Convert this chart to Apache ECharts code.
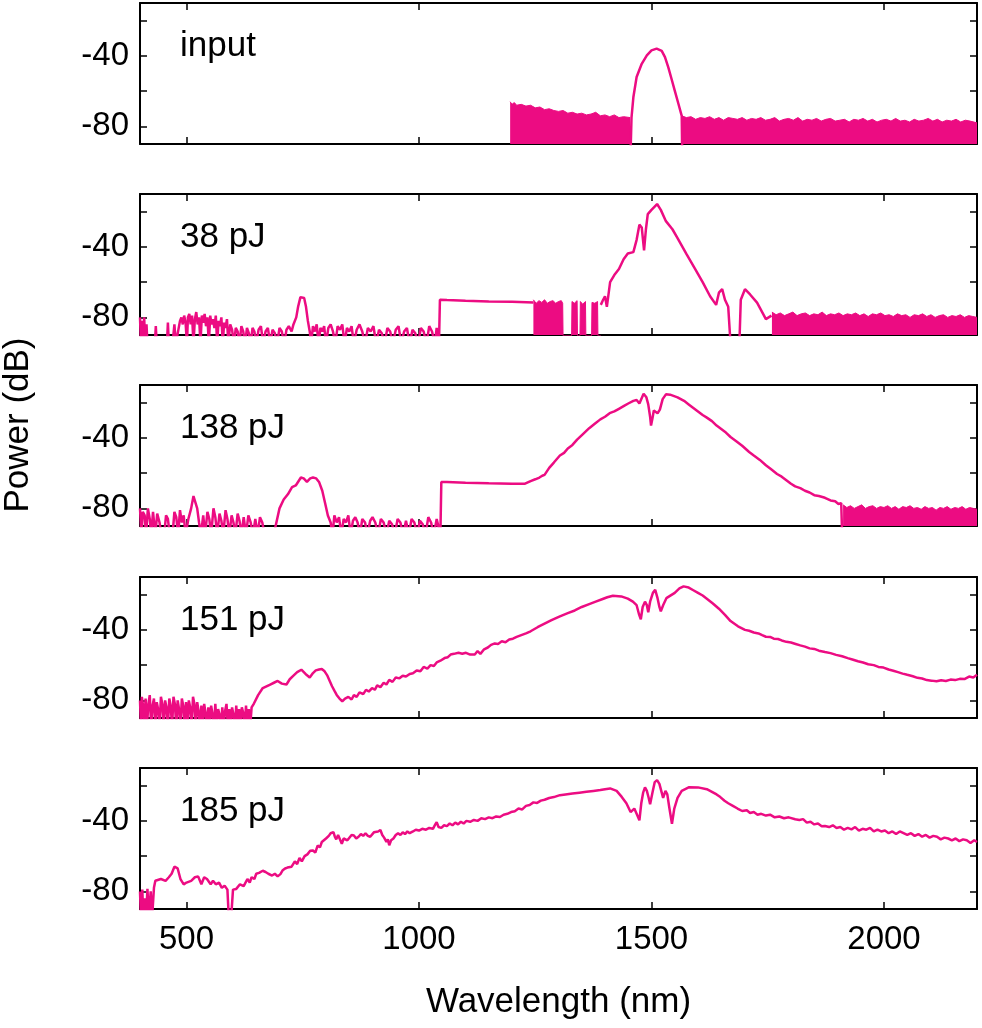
<!DOCTYPE html>
<html>
<head>
<meta charset="utf-8">
<script src="https://cdn.jsdelivr.net/npm/echarts@6/dist/echarts.min.js"></script>
<style>
html,body{margin:0;padding:0;background:#fff;}
#chart{width:982px;height:1028px;}
</style>
</head>
<body>
<div id="chart"></div>
<script>
// panel labels
var panelLabels = ['input', '38 pJ', '138 pJ', '151 pJ', '185 pJ'];
var xTicks = [500, 1000, 1500, 2000];
var yTicks = [-80, -60, -40, -20];
var yLabels = [-80, -40];

// input
var inputNoiseLeft = [[1196,-66],[1200,-67.5],[1205,-66.5],[1210,-68],[1220,-67.5],[1230,-68.5],[1240,-68],[1250,-69.5],[1260,-69],[1270,-70.5],[1280,-70],[1290,-71],[1300,-71.5],[1310,-71],[1320,-72.5],[1330,-72],[1340,-73],[1350,-72.5],[1360,-73.5],[1370,-73],[1380,-72],[1390,-74],[1400,-73.5],[1410,-74.5],[1420,-73.5],[1430,-75],[1440,-74.5],[1454,-75]];
var inputPulse = [[1455,-95],[1457,-75],[1461,-63.5],[1468,-52],[1479,-44.5],[1490,-39.7],[1500,-36.9],[1511,-35.9],[1522,-37.2],[1529,-40.7],[1536,-46.4],[1543,-53],[1550,-59.7],[1558,-67.3],[1565,-74],[1566,-95]];
var inputNoiseRight = [[1565,-74],[1575,-75],[1585,-74.5],[1595,-76],[1605,-75],[1615,-75.5],[1625,-74.5],[1635,-76],[1645,-75],[1655,-76.5],[1665,-75],[1675,-75.5],[1685,-76],[1695,-75],[1705,-76.5],[1715,-75.5],[1725,-76],[1735,-75],[1745,-76.5],[1755,-76],[1765,-75],[1775,-77],[1785,-76],[1795,-75.5],[1805,-76.5],[1815,-75],[1825,-77],[1835,-76],[1845,-76.5],[1855,-75.5],[1865,-77],[1875,-76],[1885,-75.5],[1895,-77],[1905,-76.5],[1915,-76],[1925,-77.5],[1935,-76],[1945,-76.5],[1955,-75.5],[1965,-77],[1975,-76],[1985,-77.5],[1995,-76.5],[2005,-76],[2015,-77],[2025,-75.5],[2035,-77],[2045,-76.5],[2055,-77.5],[2065,-76],[2075,-77],[2085,-76.5],[2095,-75.5],[2105,-77],[2115,-76],[2125,-77.5],[2135,-76.5],[2145,-77],[2155,-76],[2165,-77.5],[2175,-76.5],[2185,-77],[2200,-78]];

// 38 pJ
var pj38Line = [[400,-80],[402,-95],[404,-82],[406,-95],[409,-80],[411,-95],[414,-84],[416,-95],[432,-95],[434,-85],[436,-95],[458,-95],[460,-83],[462,-95],[470,-95],[474,-84],[477,-95],[486,-82],[489,-80],[492,-84],[495,-79],[498,-83],[501,-95],[503,-80],[506,-78],[509,-84],[512,-79],[515,-95],[518,-81],[521,-77],[524,-84],[527,-80],[530,-95],[533,-79],[536,-83],[539,-78],[542,-85],[545,-80],[548,-95],[551,-79],[554,-84],[557,-81],[560,-86],[563,-79],[566,-95],[569,-82],[572,-85],[575,-80],[578,-95],[581,-83],[584,-86],[587,-81],[590,-95],[594,-84],[598,-87],[602,-95],[606,-86],[610,-88],[614,-95],[618,-85],[622,-88],[626,-95],[630,-86],[634,-89],[638,-95],[642,-86],[646,-88],[650,-95],[655,-87],[660,-85],[665,-95],[670,-88],[675,-86],[680,-95],[685,-87],[690,-89],[695,-95],[700,-86],[705,-88],[710,-95],[715,-87],[720,-85],[726,-88],[730,-84],[736,-80],[740,-74],[745,-68.5],[749,-67.5],[753,-69],[757,-74],[761,-82],[765,-88],[768,-95],[772,-85],[776,-88],[780,-84],[784,-95],[788,-86],[792,-88],[796,-85],[800,-95],[805,-86],[810,-84],[815,-88],[820,-95],[825,-85],[830,-87],[835,-84],[840,-95],[845,-86],[850,-88],[855,-85],[860,-95],[866,-87],[872,-84],[878,-88],[884,-95],[890,-86],[896,-88],[902,-85],[908,-95],[914,-87],[920,-89],[926,-95],[932,-86],[938,-88],[944,-95],[950,-87],[956,-85],[962,-95],[968,-88],[974,-86],[980,-95],[986,-87],[992,-89],[998,-95],[1004,-86],[1010,-88],[1016,-95],[1022,-85],[1028,-88],[1034,-95],[1038,-86],[1043,-95],[1045,-70],[1060,-70.2],[1100,-70.6],[1150,-71],[1200,-71.2],[1246,-71.5]];
var pj38NoiseMid = [[1246,-70],[1252,-72],[1258,-70.5],[1264,-71.5],[1270,-70],[1276,-72],[1282,-71],[1288,-70.5],[1294,-72],[1300,-71],[1306,-70.5],[1309,-72],[1310,-95],[1328,-95],[1329,-71],[1334,-72],[1340,-70.5],[1341,-95],[1346,-95],[1347,-71],[1352,-72.5],[1358,-71],[1359,-95],[1371,-95],[1372,-71.5],[1378,-72],[1384,-71],[1385,-95],[1391,-95]];
var pj38Peak = [[1391,-72.9],[1396,-70],[1400,-68],[1404,-74],[1411,-60],[1420,-56],[1430,-52.6],[1440,-47],[1449,-43.8],[1461,-43],[1468,-36],[1474,-27.4],[1479,-29],[1484,-42],[1488,-30],[1492,-21.4],[1500,-19],[1512,-15.7],[1520,-19],[1531,-25.4],[1545,-30],[1556,-35],[1575,-44],[1594,-52.6],[1610,-60],[1626,-68],[1639,-72.9],[1645,-66],[1652,-64],[1658,-70],[1665,-74],[1670,-95],[1689,-95],[1692,-70],[1701,-64],[1712,-67],[1727,-71.6],[1740,-78],[1746,-81],[1758,-79]];
var pj38NoiseRight = [[1759,-77],[1768,-78.5],[1777,-77.5],[1786,-79],[1795,-78],[1804,-77],[1813,-79],[1822,-78],[1831,-77.5],[1840,-79],[1849,-78],[1858,-78.5],[1867,-77],[1876,-79],[1885,-78],[1894,-78.5],[1903,-77.5],[1912,-79],[1921,-78],[1930,-78.5],[1939,-77.5],[1948,-79],[1957,-78],[1966,-79.5],[1975,-78],[1984,-78.5],[1993,-77.5],[2002,-79],[2011,-78.5],[2020,-79.5],[2029,-78],[2038,-79],[2047,-78.5],[2056,-80],[2065,-78.5],[2074,-79],[2083,-78],[2092,-79.5],[2101,-78.5],[2110,-80],[2119,-79],[2128,-78.5],[2137,-80],[2146,-79],[2155,-79.5],[2164,-78.5],[2173,-80],[2182,-79],[2191,-79.5],[2200,-80]];

// 138 pJ
var pj138Line = [[400,-80],[403,-95],[406,-82],[410,-84],[413,-95],[417,-80],[421,-86],[424,-95],[428,-82],[433,-95],[437,-83],[442,-88],[446,-95],[452,-95],[456,-84],[460,-86],[464,-95],[470,-95],[474,-82],[478,-85],[482,-95],[486,-81],[490,-88],[494,-84],[498,-95],[504,-86],[510,-80],[515,-73],[519,-72],[523,-80],[527,-88],[531,-95],[536,-84],[540,-95],[545,-82],[549,-86],[553,-95],[558,-80],[562,-85],[566,-95],[571,-83],[575,-87],[579,-95],[584,-81],[588,-86],[592,-95],[597,-84],[601,-88],[605,-95],[610,-83],[614,-87],[618,-95],[623,-85],[628,-95],[633,-84],[638,-88],[643,-95],[648,-86],[653,-95],[658,-85],[663,-88],[668,-95],[686,-95],[690,-92],[700,-80],[709,-75],[718,-72],[727,-68],[735,-67],[746,-62.5],[752,-63],[759,-65],[766,-63],[772,-62.5],[779,-63],[785,-65],[792,-70],[798,-77],[804,-84],[810,-88],[814,-95],[818,-84],[823,-88],[828,-85],[833,-95],[838,-86],[843,-88],[848,-84],[853,-95],[858,-87],[863,-85],[868,-88],[873,-95],[878,-86],[884,-88],[889,-95],[895,-87],[900,-85],[906,-88],[912,-95],[918,-86],[924,-88],[930,-95],[936,-87],[942,-89],[948,-95],[954,-86],[960,-88],[966,-95],[972,-87],[978,-95],[984,-86],[990,-88],[996,-95],[1002,-87],[1008,-89],[1014,-95],[1020,-85],[1026,-88],[1032,-95],[1038,-86],[1046,-95],[1048,-65],[1060,-65],[1100,-65.5],[1150,-65.8],[1200,-66],[1228,-66],[1240,-64.5],[1250,-63.5],[1259,-62.5],[1265,-61.5],[1270,-61],[1280,-57],[1290,-54],[1303,-50],[1312,-48.5],[1320,-46],[1330,-44],[1340,-41],[1352,-38],[1366,-34.5],[1378,-32],[1390,-29.5],[1400,-28],[1410,-26],[1420,-25],[1430,-23.5],[1440,-22],[1450,-20.5],[1461,-19],[1468,-18.5],[1474,-20.5],[1483,-15],[1489,-17],[1493,-21],[1497,-28],[1499,-33],[1502,-29],[1505,-24.5],[1508,-24],[1513,-26],[1518,-24],[1524,-18],[1531,-15.3],[1540,-15.5],[1556,-17],[1570,-19],[1580,-21],[1590,-23],[1600,-25],[1610,-27],[1619,-28.5],[1630,-30.5],[1640,-33],[1650,-35],[1660,-37],[1670,-39.5],[1683,-42],[1695,-44.5],[1710,-48],[1720,-50],[1733,-52.5],[1746,-55.5],[1758,-58],[1770,-60.5],[1780,-62],[1790,-64],[1800,-66],[1809,-67.5],[1820,-68.5],[1830,-70],[1840,-71],[1850,-72.5],[1860,-73],[1873,-74],[1885,-75.5],[1895,-76],[1902,-77.5],[1908,-77],[1910,-95]];
var pj138NoiseRight = [[1912,-78],[1920,-79.5],[1928,-78.5],[1936,-80],[1944,-79],[1952,-78],[1960,-80],[1968,-79],[1976,-78.5],[1984,-80],[1992,-79],[2000,-79.5],[2008,-78.5],[2016,-80],[2024,-79],[2032,-80.5],[2040,-79],[2048,-79.5],[2056,-78.5],[2064,-80],[2072,-79.5],[2080,-80.5],[2088,-79],[2096,-80],[2104,-79.5],[2112,-81],[2120,-79.5],[2128,-80],[2136,-79],[2144,-80.5],[2152,-79.5],[2160,-80],[2168,-79],[2176,-80.5],[2184,-79.5],[2192,-80],[2200,-80.5]];

// 151 pJ
var pj151Line = [[400,-80],[402,-95],[404,-78],[407,-84],[409,-95],[412,-79],[415,-95],[418,-82],[421,-77],[424,-95],[427,-83],[430,-79],[433,-95],[436,-81],[439,-85],[442,-95],[445,-78],[448,-82],[451,-95],[454,-80],[457,-84],[460,-95],[463,-79],[466,-83],[469,-95],[472,-78],[475,-82],[478,-95],[481,-80],[484,-85],[487,-95],[490,-79],[493,-83],[496,-95],[499,-81],[502,-95],[505,-80],[508,-84],[511,-95],[514,-78],[517,-82],[520,-95],[523,-81],[526,-86],[529,-95],[532,-83],[535,-95],[538,-82],[541,-87],[544,-95],[547,-84],[550,-95],[553,-83],[556,-88],[559,-95],[562,-82],[565,-95],[568,-85],[571,-88],[574,-95],[577,-84],[580,-95],[583,-86],[586,-82],[589,-95],[592,-85],[595,-95],[598,-84],[601,-88],[604,-95],[607,-83],[610,-95],[613,-85],[616,-95],[619,-84],[622,-87],[625,-95],[628,-83],[631,-95],[634,-85],[637,-95],[640,-84],[645,-81.8],[654,-77],[664,-73],[672,-72],[680,-71],[688,-70],[696,-69],[705,-70.5],[715,-71],[722,-68],[730,-66],[738,-64],[747,-62.6],[756,-65],[765,-67],[772,-64.5],[778,-63],[785,-62.5],[791,-62.2],[797,-63.5],[803,-66],[808,-69],[813,-72],[818,-74.5],[823,-76.9],[829,-79],[835,-80.5],[841,-79],[848,-78],[855,-79.5],[860,-77],[866,-78],[872,-75.5],[880,-76.5],[886,-74],[892,-75],[899,-73],[905,-74],[910,-71.5],[917,-72.5],[924,-70],[930,-71],[936,-68.4],[943,-69.5],[950,-67],[958,-67.5],[965,-66],[972,-66.5],[980,-65],[987,-64.6],[995,-63],[1003,-63.5],[1010,-61],[1018,-62],[1025,-60],[1032,-60.5],[1038,-58.5],[1046,-57.5],[1055,-56],[1062,-55.5],[1068,-54],[1075,-53.6],[1085,-53],[1093,-53.5],[1101,-53],[1110,-54],[1120,-54],[1126,-52],[1132,-53.6],[1140,-51],[1148,-50],[1155,-48.5],[1163,-47.7],[1170,-48],[1178,-46.5],[1186,-47],[1194,-45.5],[1202,-45],[1210,-44],[1220,-43],[1230,-42],[1240,-40.8],[1255,-38.5],[1270,-36.5],[1285,-34.5],[1303,-32.3],[1320,-30.5],[1335,-29],[1350,-27],[1366,-25.4],[1380,-24],[1395,-22.5],[1405,-21.5],[1417,-20.6],[1435,-21],[1449,-22.3],[1460,-24],[1468,-26],[1473,-31],[1477,-34],[1481,-27],[1486,-24],[1490,-26],[1493,-30],[1497,-24],[1503,-19],[1508,-17.3],[1513,-22],[1517,-27],[1520,-29.5],[1525,-26],[1532,-22],[1538,-21],[1550,-19],[1560,-16.5],[1569,-15.3],[1580,-16],[1590,-17.5],[1600,-19],[1610,-20.5],[1619,-22.3],[1632,-25],[1645,-28],[1658,-31.5],[1670,-35],[1686,-38],[1701,-40],[1710,-40.5],[1720,-41.5],[1730,-42],[1738,-43],[1746,-43.9],[1755,-44],[1763,-45],[1772,-45.2],[1780,-46],[1790,-46.8],[1800,-47.2],[1810,-48],[1820,-48.8],[1830,-49.5],[1840,-50.5],[1850,-50.8],[1860,-51.8],[1873,-52.6],[1885,-53.2],[1897,-54.2],[1910,-55],[1922,-56],[1932,-56.8],[1944,-57.8],[1955,-58.5],[1966,-59.5],[1978,-60],[1988,-61],[1999,-61.4],[2010,-62.5],[2020,-63.2],[2030,-64],[2040,-64.8],[2050,-65.5],[2062,-66.3],[2072,-67.2],[2082,-67.6],[2092,-68.5],[2102,-68.8],[2113,-69.2],[2123,-68.6],[2133,-69],[2143,-68.2],[2153,-68.5],[2163,-67.8],[2173,-67.9],[2183,-66.5],[2192,-67],[2200,-65.5]];

// 185 pJ
var pj185Line = [[400,-80],[402,-95],[405,-79],[407,-95],[410,-84],[413,-95],[416,-78.6],[419,-95],[423,-80],[426,-95],[430,-78],[433,-74],[437,-74],[445,-73],[455,-74],[462,-72],[468,-70],[474,-66],[481,-67],[487,-73],[494,-76],[500,-75],[510,-74],[518,-72],[525,-71.5],[532,-76],[538,-72],[544,-73],[552,-76],[557,-74],[563,-76],[570,-75],[576,-78],[582,-76.8],[588,-79],[591,-95],[596,-95],[600,-79],[607,-78.6],[615,-76],[623,-77],[631,-73],[636,-75],[640,-72],[646,-73],[650,-70],[656,-69.5],[664,-68.3],[670,-69],[676,-70],[684,-71],[690,-70],[696,-71.5],[702,-70.2],[707,-68],[712,-67],[717,-66.5],[721,-65.4],[726,-66],[733,-63],[738,-64.5],[743,-61],[748,-63],[754,-60],[760,-59],[766,-57],[772,-56.8],[777,-58],[782,-54],[787,-55],[791,-52],[795,-53],[800,-50],[806,-48.5],[810,-47],[816,-46.4],[819,-49],[822,-50.5],[826,-48],[830,-47.5],[834,-53],[838,-50],[842,-49],[846,-51],[850,-50],[855,-48],[860,-48.3],[865,-50],[870,-49],[875,-47.5],[880,-48.5],[885,-47],[890,-48.5],[895,-49],[899,-48],[903,-46.5],[907,-47.5],[912,-46],[917,-45.2],[921,-48],[925,-49.5],[930,-52],[933,-50.5],[936,-53.8],[940,-51],[945,-50],[950,-48],[955,-47],[960,-48],[965,-46.5],[970,-47.5],[975,-46],[980,-47],[987,-46],[993,-45],[1000,-45.5],[1007,-44.5],[1015,-45],[1022,-44],[1030,-44.5],[1035,-42],[1038,-40.8],[1042,-43.5],[1048,-44],[1054,-42.5],[1060,-43],[1066,-41.5],[1072,-42.5],[1078,-41],[1084,-42],[1090,-40.5],[1096,-41.5],[1102,-40],[1110,-40.5],[1118,-39.5],[1126,-40],[1134,-38.5],[1142,-39],[1150,-38],[1158,-38.5],[1166,-37.5],[1174,-37.8],[1182,-36.5],[1190,-36],[1198,-35],[1206,-34.5],[1214,-33],[1222,-33.5],[1230,-31.5],[1238,-31],[1246,-29.5],[1254,-29.8],[1262,-28.5],[1270,-28],[1280,-27],[1290,-26.5],[1303,-25.4],[1315,-25],[1330,-24.5],[1345,-24],[1360,-23.5],[1375,-23],[1390,-22.5],[1400,-22],[1411,-21.6],[1425,-23],[1436,-26.4],[1446,-30],[1455,-35],[1463,-33],[1468,-36],[1474,-39.7],[1478,-30],[1482,-24],[1486,-21],[1490,-23],[1494,-27],[1497,-30.5],[1502,-24],[1507,-18],[1512,-16.9],[1517,-19],[1522,-24],[1525,-27],[1530,-23],[1534,-25],[1538,-32],[1544,-41.6],[1549,-33],[1556,-27],[1565,-23],[1581,-20.9],[1600,-21],[1619,-22],[1630,-23.5],[1640,-25],[1648,-26.5],[1657,-28.6],[1665,-30],[1675,-31.5],[1685,-33],[1695,-34.4],[1705,-34],[1712,-35.5],[1720,-35],[1728,-36.5],[1736,-36],[1746,-37],[1755,-36.5],[1765,-38],[1775,-37.5],[1785,-38.5],[1795,-38],[1809,-39.1],[1818,-39.5],[1826,-39],[1834,-41],[1842,-40.5],[1850,-42],[1858,-41.5],[1866,-43],[1873,-42.9],[1882,-43.5],[1890,-42.5],[1898,-44],[1906,-43.5],[1914,-45],[1922,-44],[1930,-44.8],[1938,-43.5],[1946,-45.5],[1954,-44.5],[1962,-45],[1970,-44],[1978,-46],[1986,-45],[1994,-46],[2002,-45.5],[2010,-47],[2018,-46],[2026,-47.5],[2034,-46],[2042,-47],[2050,-48],[2058,-47],[2066,-48.5],[2074,-47.5],[2082,-49],[2090,-48],[2098,-49.5],[2106,-48.5],[2114,-49],[2122,-50.5],[2130,-49.5],[2138,-50],[2146,-51],[2154,-50],[2162,-51.5],[2170,-50.5],[2178,-51],[2186,-52.5],[2194,-51],[2200,-52]];

var grids = [3, 194, 385, 577, 768];
var lineColor = '#ec0c82';
var fontName = '"Liberation Sans", Arial, sans-serif';

var panelLines = [
  [inputPulse],
  [pj38Line, pj38Peak],
  [pj138Line],
  [pj151Line],
  [pj185Line]
];
var panelFills = [
  [inputNoiseLeft, inputNoiseRight],
  [pj38NoiseMid, pj38NoiseRight],
  [pj138NoiseRight],
  [],
  []
];

function plain(v) { return String(v); }

var gridList = [], xAxes = [], yAxes = [], series = [], graphics = [];
for (var i = 0; i < 5; i++) {
  gridList.push({left: 140, right: 5, top: grids[i], height: 141, show: false});
  xAxes.push({
    type: 'value', gridIndex: i, min: 400, max: 2200, position: 'bottom',
    axisLine: {show: true, onZero: false, lineStyle: {color: '#000', width: 2}},
    axisTick: {show: true, inside: true, length: 7, customValues: xTicks, lineStyle: {color: '#000', width: 1.5}},
    axisLabel: {show: i === 4, customValues: xTicks, formatter: plain, margin: 14, color: '#000', fontSize: 33, fontFamily: fontName},
    splitLine: {show: false},
    name: i === 4 ? 'Wavelength (nm)' : '', nameLocation: 'middle', nameGap: 76,
    nameTextStyle: {color: '#000', fontSize: 35, fontFamily: fontName}
  });
  xAxes.push({
    type: 'value', gridIndex: i, min: 400, max: 2200, position: 'top',
    axisLine: {show: true, onZero: false, lineStyle: {color: '#000', width: 2}},
    axisTick: {show: true, inside: true, length: 7, customValues: xTicks, lineStyle: {color: '#000', width: 1.5}},
    axisLabel: {show: false}, splitLine: {show: false}
  });
  yAxes.push({
    type: 'value', gridIndex: i, min: -90, max: -10, position: 'left',
    axisLine: {show: true, onZero: false, lineStyle: {color: '#000', width: 2}},
    axisTick: {show: true, inside: true, length: 7, customValues: yTicks, lineStyle: {color: '#000', width: 1.5}},
    axisLabel: {show: true, customValues: yLabels, formatter: plain, margin: 11, color: '#000', fontSize: 33, fontFamily: fontName},
    splitLine: {show: false}
  });
  yAxes.push({
    type: 'value', gridIndex: i, min: -90, max: -10, position: 'right',
    axisLine: {show: true, onZero: false, lineStyle: {color: '#000', width: 2}},
    axisTick: {show: true, inside: true, length: 7, customValues: yTicks, lineStyle: {color: '#000', width: 1.5}},
    axisLabel: {show: false}, splitLine: {show: false}
  });
  panelFills[i].forEach(function (d) {
    series.push({
      type: 'line', xAxisIndex: 2 * i, yAxisIndex: 2 * i, data: d, showSymbol: false, silent: true,
      lineStyle: {color: lineColor, width: 1}, areaStyle: {color: lineColor, opacity: 1, origin: 'start'}, z: 2
    });
  });
  panelLines[i].forEach(function (d) {
    series.push({
      type: 'line', xAxisIndex: 2 * i, yAxisIndex: 2 * i, data: d, showSymbol: false, silent: true,
      lineStyle: {color: lineColor, width: 2.5}, z: 3
    });
  });
  graphics.push({
    type: 'text', left: 180, top: grids[i] + 26,
    style: {text: panelLabels[i], fill: '#000', font: '35px ' + fontName}
  });
}
graphics.push({
  type: 'text', x: 18, y: 425, rotation: Math.PI / 2,
  style: {text: 'Power (dB)', fill: '#000', font: '35px ' + fontName, align: 'center', verticalAlign: 'middle'}
});

var myChart = echarts.init(document.getElementById('chart'));
myChart.setOption({
  animation: false,
  grid: gridList,
  xAxis: xAxes,
  yAxis: yAxes,
  series: series,
  graphic: graphics
});
</script>
</body>
</html>
